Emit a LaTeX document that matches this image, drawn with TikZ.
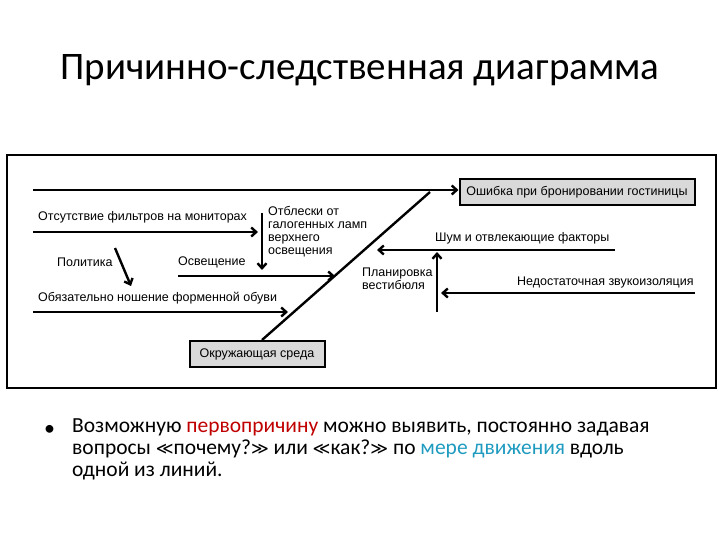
\documentclass[tikz,border=0pt]{standalone}
\usepackage{fontspec}
\setmainfont{Carlito}
\newfontfamily\dfont{Liberation Sans}
\newfontfamily\symfont{DejaVu Sans}
\usetikzlibrary{arrows.meta}
\begin{document}
\begin{tikzpicture}[x=1pt,y=-1pt,
  arr/.style={line width=2.4pt,-{Straight Barb[length=5pt,width=9pt]}},
  lbl/.style={font=\dfont\fontsize{12.5}{13}\selectfont,inner sep=0pt,anchor=west},
  gbox/.style={draw,line width=2pt,fill=black!15,font=\dfont\fontsize{12.5}{13}\selectfont,inner sep=4pt}]
\useasboundingbox (0,0) rectangle (720,540);
\node (title) at (360,70) {\fontsize{39}{44}\selectfont Причинно-следственная диаграмма};
\draw[line width=1.6pt] (7,155) rectangle (716,388);
% head
\node[gbox,minimum width=235pt,minimum height=26pt] (eff) at (577,192) {Ошибка при бронировании гостиницы};
\coordinate (s0) at (33,190);
\draw[arr] (s0) -- (eff.west|-s0);
% spine
\node[gbox,minimum width=135pt,minimum height=26pt] (env) at (257,354) {Окружающая среда};
\coordinate (sp) at (430,192);
\draw[line width=2.4pt] (env.north) ++(5,0) coordinate (sb) -- (sp);
% left bones
\node[lbl] (t1) at (38,217) {Отсутствие фильтров на мониторах};
\coordinate (a1s) at (33,232); \coordinate (a1e) at (258,232);
\draw[arr] (a1s) -- (a1e);
\node[lbl,align=left,anchor=north west,font=\dfont\fontsize{12.5}{13}\selectfont] (t2) at (268,206) {Отблески от\\галогенных ламп\\верхнего\\освещения};
\coordinate (v1s) at (262,213); \coordinate (v1e) at (262,270);
\draw[arr] (v1s) -- (v1e);
\node[lbl] (pol) at (57,262) {Политика};
\coordinate (ps) at (115,248); \coordinate (pe) at (131,286);
\draw[arr] (ps) -- (pe);
\node[lbl] (osv) at (178,262) {Освещение};
\coordinate (a2s) at (178,276); \coordinate (a2e) at (335,276);
\draw[arr] (a2s) -- (a2e);
\node[lbl] (t3) at (38,298) {Обязательно ношение форменной обуви};
\coordinate (a3s) at (33,312); \coordinate (a3e) at (288,312);
\draw[arr] (a3s) -- (a3e);
% right bones
\node[lbl] (t4) at (435,238) {Шум и отвлекающие факторы};
\coordinate (a4s) at (615,250); \coordinate (a4e) at (377,250);
\draw[arr] (a4s) -- (a4e);
\node[lbl] (t5) at (517,282) {Недостаточная звукоизоляция};
\coordinate (a5s) at (695,293); \coordinate (a5e) at (441,293);
\draw[arr] (a5s) -- (a5e);
\coordinate (v2s) at (437,312); \coordinate (v2e) at (437,252);
\draw[arr] (v2s) -- (v2e);
\node[lbl,align=left,anchor=north west,font=\dfont\fontsize{12.5}{13}\selectfont] (t6) at (362,268) {Планировка\\вестибюля};
% bullet
\node[anchor=west,inner sep=0pt] (bul) at (44,430) {\fontsize{22}{26}\selectfont •};
\node[anchor=north west,align=left,inner sep=0pt,font=\fontsize{21.5}{22}\selectfont] (btext) at (72,419)
 {Возможную \textcolor[HTML]{C00000}{первопричину} можно выявить, постоянно задавая\\
 вопросы {\symfont\fontsize{17}{22}\selectfont ≪}почему?{\symfont\fontsize{17}{22}\selectfont ≫} или {\symfont\fontsize{17}{22}\selectfont ≪}как?{\symfont\fontsize{17}{22}\selectfont ≫} по \textcolor[HTML]{1F9BC0}{мере движения} вдоль\\
 одной из линий.};
\end{tikzpicture}
\end{document}
